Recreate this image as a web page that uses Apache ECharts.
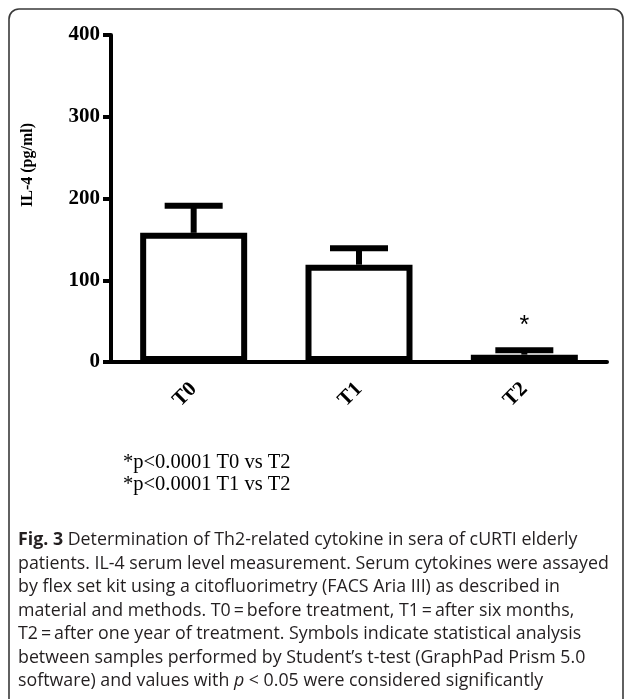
<!DOCTYPE html>
<html>
<head>
<meta charset="utf-8">
<script src="https://cdn.jsdelivr.net/npm/echarts@6/dist/echarts.min.js"></script>
<style>
html,body{margin:0;padding:0;background:#fff;}
#chart{width:627px;height:699px;}
</style>
</head>
<body>
<div id="chart"></div>
<script>
// ---- data ----
var categories = ['T0', 'T1', 'T2'];
var meanValues = [158, 119, 9];
var upperError = [191, 139, 14.5];
var significance = ['', '', '*'];
var yTicks = { min: 0, max: 400, interval: 100 };
var yAxisName = 'IL-4 (pg/ml)';
var notes = ['*p<0.0001 T0 vs T2', '*p<0.0001 T1 vs T2'];
var captionLines = [
  '{b|Fig. 3} Determination of Th2-related cytokine in sera of cURTI elderly',
  'patients. IL-4 serum level measurement. Serum cytokines were assayed',
  'by flex set kit using a citofluorimetry (FACS Aria III) as described in',
  'material and methods. T0\u2009=\u2009before treatment, T1\u2009=\u2009after six months,',
  'T2\u2009=\u2009after one year of treatment. Symbols indicate statistical analysis',
  'between samples performed by Student\u2019s t-test (GraphPad Prism 5.0',
  'software) and values with {i|p} < 0.05 were considered significantly'
];

var chart = echarts.init(document.getElementById('chart'), null, {renderer: 'canvas'});

var errData = categories.map(function (c, i) { return [i, meanValues[i], upperError[i], significance[i]]; });

var capFont = '"Open Sans", "Noto Sans", sans-serif';
var capSize = 17.8;
var graphics = [
  {
    type: 'rect', silent: true, z: -10,
    shape: { x: 9, y: 9, width: 614, height: 720, r: 10 },
    style: { fill: 'none', stroke: '#3a3a3a', lineWidth: 1.6 }
  },
  {
    type: 'text', x: 28, y: 165, rotation: Math.PI / 2,
    style: {
      text: yAxisName, font: 'bold 16px "Liberation Serif", "Times New Roman", serif',
      fill: '#000', align: 'center', verticalAlign: 'middle'
    }
  }
];
notes.forEach(function (t, i) {
  graphics.push({
    type: 'text', x: 123, y: 463 + i * 21.5,
    style: { text: t, font: '20.5px "Liberation Serif", "Times New Roman", serif', fill: '#000', verticalAlign: 'middle' }
  });
});
captionLines.forEach(function (t, i) {
  graphics.push({
    type: 'text', x: 18, y: 540 + i * 23.5,
    style: {
      text: t, fontFamily: capFont, fontSize: capSize, fill: '#231f20', verticalAlign: 'middle',
      rich: {
        b: { fontFamily: capFont, fontSize: capSize, fontWeight: 'bold', fill: '#231f20' },
        i: { fontFamily: capFont, fontSize: capSize, fontStyle: 'italic', fill: '#231f20' }
      }
    }
  });
});

var option = {
  backgroundColor: '#fff',
  animation: false,
  grid: { left: 111, right: 20, top: 35, bottom: 337, containLabel: false },
  xAxis: {
    type: 'category',
    data: categories,
    z: 5,
    axisLine: { lineStyle: { color: '#000', width: 4 } },
    axisTick: { alignWithLabel: true, length: 8, lineStyle: { color: '#000', width: 4 } },
    axisLabel: {
      rotate: 45, margin: 24, color: '#000',
      fontFamily: '"Liberation Serif", "Times New Roman", serif', fontWeight: 'bold', fontSize: 21
    }
  },
  yAxis: {
    type: 'value',
    min: yTicks.min, max: yTicks.max, interval: yTicks.interval,
    splitLine: { show: false },
    axisLine: { show: true, lineStyle: { color: '#000', width: 4 } },
    axisTick: { show: true, length: 8, lineStyle: { color: '#000', width: 4 } },
    axisLabel: {
      margin: 11, color: '#000',
      fontFamily: '"Liberation Serif", "Times New Roman", serif', fontWeight: 'bold', fontSize: 21
    }
  },
  series: [
    {
      type: 'bar',
      data: meanValues,
      barWidth: 107,
      itemStyle: { color: '#fff', borderColor: '#000', borderWidth: 6 },
      z: 2
    },
    {
      type: 'custom',
      data: errData,
      z: 3,
      renderItem: function (params, api) {
        var idx = api.value(0);
        var top = api.coord([idx, api.value(1)]);
        var hi = api.coord([idx, api.value(2)]);
        var half = 29;
        var children = [
          { type: 'line', shape: { x1: top[0], y1: top[1], x2: hi[0], y2: hi[1] },
            style: { stroke: '#000', lineWidth: 6 } },
          { type: 'line', shape: { x1: hi[0] - half, y1: hi[1], x2: hi[0] + half, y2: hi[1] },
            style: { stroke: '#000', lineWidth: 6 } }
        ];
        var sig = api.value(3);
        if (sig) {
          children.push({
            type: 'text', x: hi[0], y: hi[1] - 24,
            style: { text: sig, font: '25px "Liberation Sans", Arial, sans-serif', fill: '#000',
                     align: 'center', verticalAlign: 'middle' }
          });
        }
        return { type: 'group', children: children };
      }
    }
  ],
  graphic: graphics
};
chart.setOption(option);
</script>
</body>
</html>
